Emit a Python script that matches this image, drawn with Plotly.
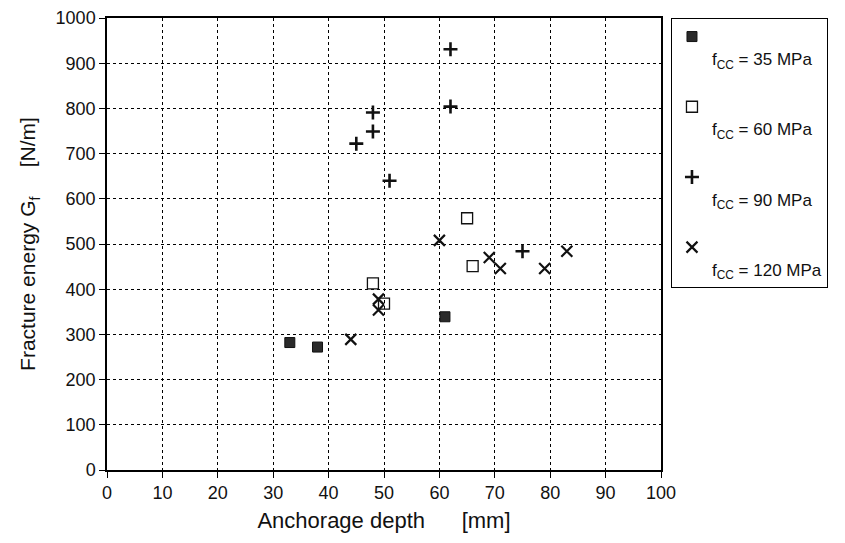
import plotly.graph_objects as go

# fcc = 35 MPa
x35 = [33, 38, 61]
y35 = [282, 272, 339]
# fcc = 60 MPa
x60 = [48, 50, 65, 66]
y60 = [413, 368, 557, 451]
# fcc = 90 MPa
x90 = [45, 48, 48, 51, 62, 62, 75]
y90 = [722, 791, 749, 640, 931, 804, 484]
# fcc = 120 MPa
x120 = [44, 49, 49, 60, 69, 71, 79, 83]
y120 = [289, 378, 354, 508, 470, 446, 446, 484]

font = "Liberation Sans, Arial, sans-serif"

fig = go.Figure()
fig.add_trace(go.Scatter(x=x35, y=y35, mode="markers", name="<br>f<sub>CC</sub> = 35 MPa",
                         legendgroup="a",
                         marker=dict(symbol="square", size=10, color="#2a2a2a",
                                     line=dict(color="#111", width=1))))
fig.add_trace(go.Scatter(x=x60, y=y60, mode="markers", name="<br>f<sub>CC</sub> = 60 MPa",
                         legendgroup="b",
                         marker=dict(symbol="square-open", size=11, color="#111",
                                     line=dict(width=1.3))))
fig.add_trace(go.Scatter(x=x90, y=y90, mode="markers", name="<br>f<sub>CC</sub> = 90 MPa",
                         legendgroup="c",
                         marker=dict(symbol="cross-thin-open", size=10, color="#111",
                                     line=dict(width=2.6))))
fig.add_trace(go.Scatter(x=x120, y=y120, mode="markers", name="<br>f<sub>CC</sub> = 120 MPa",
                         legendgroup="d",
                         marker=dict(symbol="x-thin-open", size=11, color="#111",
                                     line=dict(width=2.2))))

axis_common = dict(showline=True, linecolor="black", linewidth=1.5, mirror=True,
                   showgrid=True, gridcolor="black", griddash="dot", gridwidth=1,
                   ticks="outside", ticklen=6, tickcolor="black", zeroline=False,
                   automargin=False, ticklabeloverflow="allow",
                   tickfont=dict(size=18, color="#111", family=font))

fig.update_xaxes(range=[0, 100], dtick=10,
                 title=dict(text="Anchorage depth&nbsp;&nbsp;&nbsp;&nbsp;&nbsp;&nbsp;[mm]",
                            font=dict(size=22, color="#111", family=font), standoff=10),
                 **axis_common)
fig.update_yaxes(range=[0, 1000], dtick=100,
                 title=dict(text="Fracture energy G<sub>f</sub>&nbsp;&nbsp;&nbsp;&nbsp;&nbsp;[N/m]",
                            font=dict(size=21, color="#111", family=font), standoff=14),
                 **axis_common)

# page body has an 8px margin, so margins are shifted to keep the plot where the reference has it
fig.update_layout(width=845, height=543,
                  margin=dict(l=99, r=192, t=10, b=81),
                  plot_bgcolor="white", paper_bgcolor="white",
                  font=dict(family=font, color="#111"),
                  legend=dict(x=1.018, y=1, xanchor="left", yanchor="top",
                              bordercolor="black", borderwidth=1, valign="top",
                              font=dict(size=17, family=font, color="#111"),
                              itemwidth=30, tracegroupgap=23))

fig.write_html("out.html")
